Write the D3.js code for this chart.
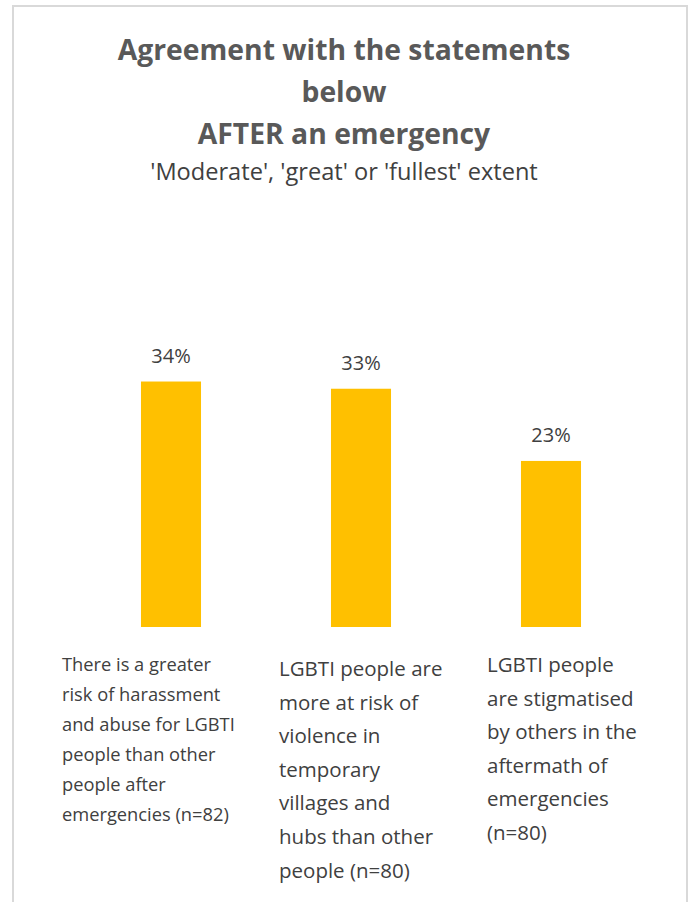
<!DOCTYPE html>
<html>
<head>
<meta charset="utf-8">
<script src="https://cdn.jsdelivr.net/npm/d3@7"></script>
<style>
  html, body { margin: 0; padding: 0; background: #ffffff; }
  svg { display: block; }
</style>
</head>
<body>
<svg id="chart" width="694" height="902"></svg>
<script>
// Statements (line breaks mark how each label wraps under its bar)
const categories = [
  "There is a greater\nrisk of harassment\nand abuse for LGBTI\npeople than other\npeople after\nemergencies (n=82)",
  "LGBTI people are\nmore at risk of\nviolence in\ntemporary\nvillages and\nhubs than other\npeople (n=80)",
  "LGBTI people\nare stigmatised\nby others in the\naftermath of\nemergencies\n(n=80)"
];
// Share agreeing to a moderate, great or fullest extent (%)
const values = [34, 33, 23];
const valueLabels = ["34%", "33%", "23%"];

const titleLines = ["Agreement with the statements", "below", "AFTER an emergency"];
const subtitle = "'Moderate', 'great' or 'fullest' extent";

const svg = d3.select("#chart");
const W = 694, H = 902;

// Chart frame
svg.append("rect")
  .attr("x", 13).attr("y", 6)
  .attr("width", 674).attr("height", H + 20)
  .attr("fill", "#ffffff")
  .attr("stroke", "#d9d9d9")
  .attr("stroke-width", 2);

const cx = 344;

// Title
const title = svg.append("text")
  .attr("text-anchor", "middle")
  .attr("font-family", "'Open Sans', sans-serif")
  .attr("font-weight", "bold")
  .attr("font-size", 28.3)
  .attr("fill", "#595959");
titleLines.forEach((t, i) => {
  title.append("tspan").attr("x", cx).attr("y", 60 + i * 42).text(t);
});

svg.append("text")
  .attr("x", cx).attr("y", 180)
  .attr("text-anchor", "middle")
  .attr("font-family", "'Open Sans', sans-serif")
  .attr("font-size", 23.6)
  .attr("fill", "#404040")
  .text(subtitle);

// Scales
const x = d3.scaleBand()
  .domain(d3.range(categories.length))
  .range([76, 646])
  .paddingInner(0.684)
  .paddingOuter(0.342);

const y = d3.scaleLinear()
  .domain([0, 40])
  .range([627, 627 - 40 * 7.22]);

// Bars
svg.append("g").selectAll("rect")
  .data(values)
  .join("rect")
  .attr("x", (d, i) => x(i))
  .attr("y", d => y(d))
  .attr("width", x.bandwidth())
  .attr("height", d => y(0) - y(d))
  .attr("fill", "#FFC000");

// Value labels
svg.append("g").selectAll("text")
  .data(values)
  .join("text")
  .attr("x", (d, i) => x(i) + x.bandwidth() / 2)
  .attr("y", d => y(d) - 18.5)
  .attr("text-anchor", "middle")
  .attr("font-family", "'Open Sans', sans-serif")
  .attr("font-size", 20)
  .attr("fill", "#404040")
  .text((d, i) => valueLabels[i]);

// Category labels, wrapped under each bar
const labelLeft = [62, 279, 487];
const labelTop = [671, 676, 672];
const labelSize = [18.3, 20.5, 20.5];
const labelStep = [30, 33.6, 33.6];

categories.forEach((c, i) => {
  const t = svg.append("text")
    .attr("font-family", "'Open Sans', sans-serif")
    .attr("font-size", labelSize[i])
    .attr("fill", "#404040");
  c.split("\n").forEach((line, j) => {
    t.append("tspan")
      .attr("x", labelLeft[i])
      .attr("y", labelTop[i] + j * labelStep[i])
      .text(line);
  });
});
</script>
</body>
</html>
